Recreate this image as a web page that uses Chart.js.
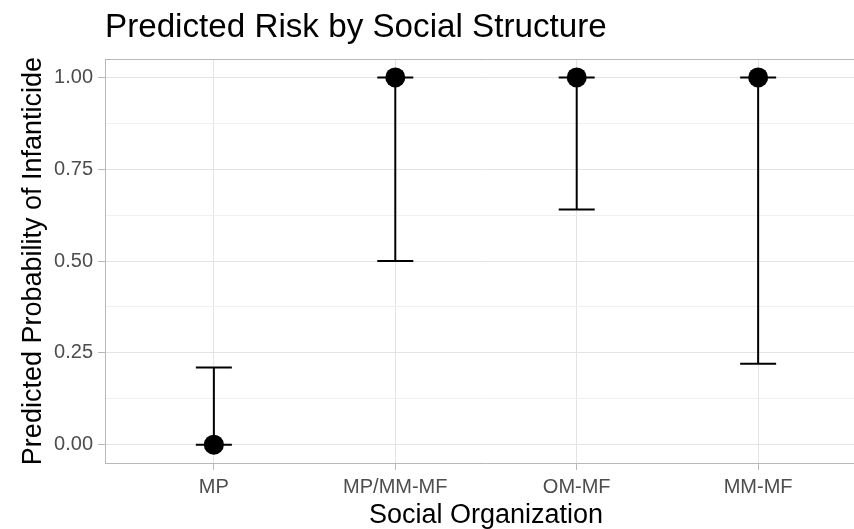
<!DOCTYPE html>
<html>
<head>
<meta charset="utf-8">
<script src="https://cdn.jsdelivr.net/npm/chart.js@4"></script>
<style>
  html, body { margin: 0; padding: 0; background: #fff; overflow: hidden; }
  #wrap { width: 854px; height: 529px; overflow: hidden; position: relative; }
  #riskChart { position: absolute; left: 0; top: 0; }
</style>
</head>
<body>
<div id="wrap"><canvas id="riskChart" width="870" height="529"></canvas></div>
<script>
// data
var categories = ['MP', 'MP/MM-MF', 'OM-MF', 'MM-MF'];
var estimate = [0, 1, 1, 1];
var lower = [0, 0.50, 0.64, 0.22];
var upper = [0.21, 1, 1, 1];
var yTicks = [0, 0.25, 0.5, 0.75, 1];
var yMinorTicks = [0.125, 0.375, 0.625, 0.875];

var gridMajor = '#e3e3e3';
var gridMinor = '#f0f0f0';
var borderGrey = '#b8b8b8';
var textGrey = '#4d4d4d';
var fontFam = '"Liberation Sans", Arial, Helvetica, sans-serif';

// one line dataset per category: the whisker plus its two caps
var datasets = [{
    type: 'scatter',
    label: 'estimate',
    data: categories.map(function (c, i) { return { x: i, y: estimate[i] }; }),
    pointRadius: 10,
    pointHoverRadius: 10,
    backgroundColor: '#000',
    borderColor: '#000',
    borderWidth: 0,
    order: 0
}];
categories.forEach(function (c, i) {
    datasets.push({
        type: 'line',
        label: c,
        data: [{ x: i, y: lower[i] }, { x: i, y: upper[i] }],
        borderColor: '#000',
        borderWidth: 2,
        pointStyle: 'line',
        pointRadius: 18,
        pointHoverRadius: 18,
        pointBorderWidth: 2,
        pointBorderColor: '#000',
        fill: false,
        order: 1
    });
});

// the panel runs a little past the right edge of the picture (canvas is clipped by #wrap)
new Chart(document.getElementById('riskChart'), {
    type: 'scatter',
    data: { datasets: datasets },
    options: {
        responsive: false,
        animation: false,
        events: [],
        layout: { autoPadding: false, padding: { left: 0, right: 3, top: 0, bottom: 0 } },
        plugins: {
            legend: { display: false },
            tooltip: { enabled: false },
            title: {
                display: true,
                text: 'Predicted Risk by Social Structure',
                align: 'start',
                fullSize: false,
                color: '#000',
                font: { family: fontFam, size: 33.2, weight: 'normal' },
                padding: { top: 8, bottom: 11.2 }
            }
        },
        scales: {
            x: {
                type: 'linear',
                min: -0.6,
                max: 3.6,
                afterBuildTicks: function (scale) {
                    scale.ticks = categories.map(function (c, i) { return { value: i }; });
                },
                afterFit: function (scale) { scale.height = 66; },
                ticks: {
                    color: textGrey,
                    font: { family: fontFam, size: 20 },
                    padding: 5,
                    maxRotation: 0,
                    autoSkip: false,
                    callback: function (v) { return categories[v]; }
                },
                grid: { color: gridMajor, lineWidth: 1, tickLength: 7, tickColor: borderGrey },
                border: { display: true, color: borderGrey, width: 1 },
                title: {
                    display: true,
                    text: 'Social Organization',
                    color: '#000',
                    font: { family: fontFam, size: 27 },
                    padding: { top: 0, bottom: -3 }
                }
            },
            x2: {
                type: 'linear',
                position: 'top',
                min: -0.6,
                max: 3.6,
                ticks: { display: false },
                grid: { display: false, drawTicks: false },
                border: { display: true, color: borderGrey, width: 1 },
                afterFit: function (scale) { scale.height = 0; }
            },
            y: {
                type: 'linear',
                min: -0.05,
                max: 1.05,
                afterBuildTicks: function (scale) {
                    scale.ticks = yTicks.concat(yMinorTicks).map(function (v) { return { value: v }; });
                },
                afterFit: function (scale) { scale.width = 105; },
                ticks: {
                    color: textGrey,
                    font: { family: fontFam, size: 20 },
                    padding: 5,
                    callback: function (v) {
                        return yTicks.indexOf(v) >= 0 ? v.toFixed(2) : '';
                    }
                },
                grid: {
                    lineWidth: 1,
                    tickLength: 7,
                    color: function (ctx) {
                        return yTicks.indexOf(ctx.tick.value) >= 0 ? gridMajor : gridMinor;
                    },
                    tickColor: function (ctx) {
                        return yTicks.indexOf(ctx.tick.value) >= 0 ? borderGrey : 'rgba(0,0,0,0)';
                    }
                },
                border: { display: true, color: borderGrey, width: 1 },
                title: {
                    display: true,
                    text: 'Predicted Probability of Infanticide',
                    color: '#000',
                    font: { family: fontFam, size: 27 },
                    padding: { top: 17, bottom: 0 }
                }
            }
        }
    }
});
</script>
</body>
</html>
